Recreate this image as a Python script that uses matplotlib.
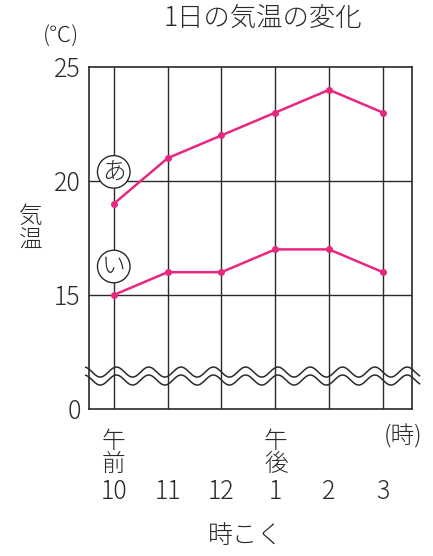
import numpy as np
import matplotlib.pyplot as plt

plt.rcParams['font.family'] = ['Noto Sans CJK JP', 'DejaVu Sans']

hours = ["10", "11", "12", "1", "2", "3"]
temp_a = [19, 21, 22, 23, 24, 23]   # あ
temp_i = [15, 16, 16, 17, 17, 16]   # い
y_ticks = [10, 15, 20, 25]          # 10 stands in for 0 (axis is broken)
y_tick_labels = ["0", "15", "20", "25"]

pink = "#e8287f"
ink = "#2a2a2a"

fig = plt.figure(figsize=(4.33, 5.56), dpi=100)
ax = fig.add_axes([0.2055, 0.2644, 0.746, 0.6151])

x = np.arange(len(hours))
ax.set_xlim(-0.46, 5.54)
ax.set_ylim(10, 25)

# grid
for xi in x:
    ax.axvline(xi, color=ink, lw=1.0, zorder=1)
for yv in [15, 20]:
    ax.axhline(yv, color=ink, lw=1.0, zorder=1)
for s in ax.spines.values():
    s.set_color(ink)
    s.set_linewidth(1.2)

ax.plot(x, temp_a, color=pink, lw=1.8, marker="o", ms=4, zorder=4)
ax.plot(x, temp_i, color=pink, lw=1.8, marker="o", ms=4, zorder=4)

# circled series labels
circ = dict(boxstyle="circle,pad=0.16", fc="white", ec=ink, lw=1.0)
ax.text(0, 20.4, "あ", ha="center", va="center", fontsize=17, color=ink,
        fontweight="light", bbox=circ, zorder=5)
ax.text(0, 16.25, "い", ha="center", va="center", fontsize=17, color=ink,
        fontweight="light", bbox=circ, zorder=5)

# wavy break mark
wx = np.linspace(-0.52, 5.68, 600)
wave = 0.22 * np.sin(2 * np.pi * (wx + 0.1) / 0.6)
ax.plot(wx, 11.27 + wave, color=ink, lw=1.1, zorder=3, clip_on=False)
ax.plot(wx, 11.62 + wave, color=ink, lw=1.1, zorder=3, clip_on=False)

ax.set_yticks(y_ticks)
ax.set_yticklabels(y_tick_labels, fontsize=18, color=ink, fontweight="light")
ax.set_xticks(x)
ax.set_xticklabels(hours, fontsize=18, color=ink, fontweight="light")
ax.tick_params(axis="both", length=0)
ax.tick_params(axis="y", pad=6)
ax.tick_params(axis="x", pad=50)

fig.text(0.608, 0.967, "1日の気温の変化", ha="center", va="center", fontsize=19,
         color=ink, fontweight="light")
fig.text(0.14, 0.933, "(℃)", ha="center", va="center", fontsize=16, color=ink,
         fontweight="light")
fig.text(0.07, 0.588, "気\n温", ha="center", va="center", fontsize=17, color=ink,
         linespacing=1.0, fontweight="light")
fig.text(0.263, 0.185, "午\n前", ha="center", va="center", fontsize=17, color=ink,
         linespacing=0.9, fontweight="light")
fig.text(0.637, 0.185, "午\n後", ha="center", va="center", fontsize=17, color=ink,
         linespacing=0.9, fontweight="light")
fig.text(0.93, 0.215, "(時)", ha="center", va="center", fontsize=17, color=ink,
         fontweight="light")
fig.text(0.567, 0.037, "時こく", ha="center", va="center", fontsize=18, color=ink,
         fontweight="light")

fig.savefig("out.png", dpi=100, facecolor="white")
